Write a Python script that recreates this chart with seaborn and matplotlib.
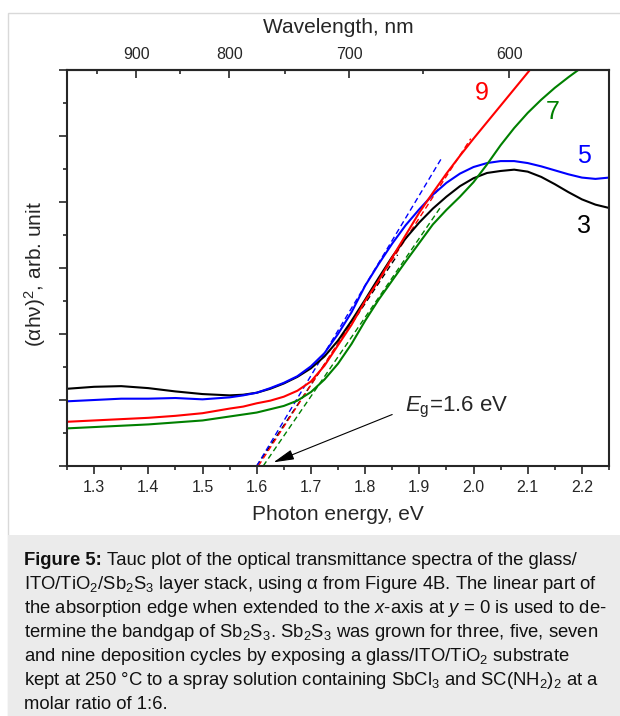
import matplotlib
matplotlib.use("Agg")
import matplotlib.pyplot as plt
import matplotlib.patches as mpatches
from matplotlib.ticker import FixedLocator, MultipleLocator, NullFormatter
import numpy as np
import pandas as pd
import seaborn as sns

# Photon energy grid (eV) and Tauc values (arb. unit)
ENERGY = [1.25, 1.30, 1.35, 1.40, 1.45, 1.50, 1.55, 1.575, 1.60, 1.625, 1.65,
          1.675, 1.70, 1.725, 1.75, 1.775, 1.80, 1.825, 1.85, 1.875, 1.90,
          1.925, 1.95, 1.975, 2.00, 2.025, 2.05, 2.075, 2.10, 2.125, 2.15,
          2.175, 2.20, 2.225, 2.25]
CYC3 = [1.17, 1.20, 1.21, 1.18, 1.13, 1.09, 1.07, 1.08, 1.11, 1.17, 1.25,
        1.35, 1.48, 1.66, 1.90, 2.20, 2.52, 2.85, 3.17, 3.45, 3.69,
        3.90, 4.08, 4.24, 4.36, 4.44, 4.47, 4.49, 4.46, 4.38, 4.27,
        4.15, 4.04, 3.96, 3.91]
CYC5 = [0.98, 1.00, 1.02, 1.02, 1.03, 1.01, 1.04, 1.07, 1.11, 1.18, 1.26,
        1.36, 1.51, 1.71, 2.00, 2.33, 2.73, 3.06, 3.37, 3.65, 3.89,
        4.11, 4.29, 4.43, 4.53, 4.59, 4.62, 4.62, 4.59, 4.54, 4.48,
        4.42, 4.37, 4.35, 4.37]
CYC7 = [0.57, 0.59, 0.61, 0.63, 0.66, 0.69, 0.75, 0.78, 0.81, 0.86, 0.91,
        0.99, 1.12, 1.31, 1.55, 1.85, 2.20, 2.52, 2.81, 3.10, 3.38,
        3.66, 3.88, 4.08, 4.30, 4.57, 4.86, 5.12, 5.35, 5.55, 5.73,
        5.89, 6.04, np.nan, np.nan]
CYC9 = [0.67, 0.69, 0.71, 0.73, 0.76, 0.80, 0.87, 0.90, 0.95, 0.99, 1.05,
        1.14, 1.28, 1.52, 1.83, 2.14, 2.50, 2.81, 3.16, 3.50, 3.84,
        4.14, 4.43, 4.70, 4.96, 5.21, 5.46, 5.71, 5.96, 6.21, np.nan,
        np.nan, np.nan, np.nan, np.nan]

CYCLES = ["3", "5", "7", "9"]
COLORS = {"3": "black", "5": "#0000ff", "7": "#008000", "9": "#ff0000"}

# Linear fits of the absorption edge: x-intercept and end point of the dashed line
FIT_START = [1.600, 1.600, 1.612, 1.603]
FIT_END_E = [1.860, 1.943, 1.940, 1.995]
FIT_END_Y = [3.20, 4.69, 3.93, 4.96]

# Curve number labels (position)
LABEL_E = [2.204, 2.204, 2.146, 2.016]
LABEL_Y = [3.63, 4.69, 5.37, 5.65]

WL_MAJOR = [900, 800, 700, 600]
WL_MINOR = [950, 850, 750, 650]

CAPTION_HEAD = "Figure 5:"
CAPTION = [
    "Tauc plot of the optical transmittance spectra of the glass/",
    r"ITO/TiO$_2$/Sb$_2$S$_3$ layer stack, using α from Figure 4B. The linear part of",
    r"the absorption edge when extended to the $\mathit{x}$-axis at $\mathit{y}$ = 0 is used to de-",
    r"termine the bandgap of Sb$_2$S$_3$. Sb$_2$S$_3$ was grown for three, five, seven",
    r"and nine deposition cycles by exposing a glass/ITO/TiO$_2$ substrate",
    r"kept at 250 °C to a spray solution containing SbCl$_3$ and SC(NH$_2$)$_2$ at a",
    "molar ratio of 1:6.",
]

sns.set_theme(style="ticks")
plt.rcParams["font.family"] = ["Liberation Sans", "DejaVu Sans"]
plt.rcParams["mathtext.fontset"] = "custom"
plt.rcParams["mathtext.rm"] = "Liberation Sans"
plt.rcParams["mathtext.it"] = "Liberation Sans:italic"
plt.rcParams["mathtext.bf"] = "Liberation Sans:bold"

curves = pd.DataFrame({"energy": ENERGY, "3": CYC3, "5": CYC5, "7": CYC7, "9": CYC9})
curves = curves.melt(id_vars="energy", var_name="cycles", value_name="tauc").dropna()

fits = pd.DataFrame({
    "cycles": CYCLES * 2,
    "energy": FIT_START + FIT_END_E,
    "tauc": [0.0] * 4 + FIT_END_Y,
})

W, H = 620, 716
fig = plt.figure(figsize=(W / 100, H / 100), dpi=100)

# page decoration: thin frame and grey caption box
fig.patches.append(mpatches.Rectangle((8 / W, 0), 1, 1 - 13 / H, transform=fig.transFigure,
                                      facecolor="white", edgecolor="#d9d9d9", lw=1.0, zorder=-2))
fig.patches.append(mpatches.Rectangle((8 / W, 0), 1, (H - 535) / H, transform=fig.transFigure,
                                      facecolor="#ebebeb", edgecolor="none", zorder=-1))

ax = fig.add_axes([67 / W, 1 - 466 / H, 542 / W, 396 / H])
ax.set_facecolor("none")

sns.lineplot(data=fits, x="energy", y="tauc", hue="cycles", hue_order=CYCLES,
             palette=COLORS, legend=False, ax=ax, lw=1.0, linestyle=(0, (4, 2.5)),
             estimator=None, sort=False)
sns.lineplot(data=curves, x="energy", y="tauc", hue="cycles", hue_order=CYCLES,
             palette=COLORS, legend=False, ax=ax, lw=1.5, estimator=None, sort=False)

for cyc, le, ly in zip(CYCLES, LABEL_E, LABEL_Y):
    ax.text(le, ly, cyc, color=COLORS[cyc], fontsize=18, ha="center", va="center")

ax.text(1.874, 0.82, r"$E_\mathrm{g}$=1.6 eV", fontsize=16, ha="left", va="baseline")
ax.annotate("", xy=(1.631, 0.056), xytext=(1.850, 0.78),
            arrowprops=dict(arrowstyle="-|>,head_length=0.9,head_width=0.22",
                            color="black", lw=0.8, mutation_scale=14, shrinkA=0, shrinkB=0))

ax.set_xlim(1.25, 2.25)
ax.set_ylim(0, 6)
ax.xaxis.set_major_locator(FixedLocator([1.3, 1.4, 1.5, 1.6, 1.7, 1.8, 1.9, 2.0, 2.1, 2.2]))
ax.xaxis.set_minor_locator(MultipleLocator(0.05))
ax.yaxis.set_major_locator(MultipleLocator(1))
ax.yaxis.set_minor_locator(MultipleLocator(0.5))
ax.yaxis.set_major_formatter(NullFormatter())
ax.tick_params(which="major", direction="out", length=6, width=1.2, labelsize=11.5, pad=4)
ax.tick_params(which="minor", direction="out", length=3, width=1.2)
ax.tick_params(top=False, right=False, which="both")
for s in ax.spines.values():
    s.set_linewidth(1.5)
    s.set_visible(True)

ax.set_xlabel("Photon energy, eV", fontsize=15, labelpad=7)
ax.set_ylabel("(αhν)$^2$, arb. unit", fontsize=15)
ax.yaxis.set_label_coords(-0.035, 0.485)


def e2l(e):
    e = np.asarray(e, dtype=float)
    with np.errstate(divide="ignore"):
        return 1239.84 / e


secax = ax.secondary_xaxis("top", functions=(e2l, e2l))
secax.set_xticks(WL_MAJOR)
secax.xaxis.set_minor_locator(FixedLocator(WL_MINOR))
secax.tick_params(which="major", direction="in", length=6, width=1.2, labelsize=11.5, pad=6)
secax.tick_params(which="minor", direction="in", length=3, width=1.2)
secax.spines["top"].set_linewidth(1.5)
secax.set_xlabel("Wavelength, nm", fontsize=15, labelpad=10)

# caption: bold head, then the text lines
cap_kw = dict(fontsize=13.3, ha="left", va="baseline", color="#111111")
head = fig.text(24 / W, 1 - 565 / H, CAPTION_HEAD, fontweight="bold", **cap_kw)
bb = head.get_window_extent(fig.canvas.get_renderer())
for i, line in enumerate(CAPTION):
    x0 = (bb.x1 + 5) / W if i == 0 else 24 / W
    fig.text(x0, 1 - (565 + 24 * i) / H, line, **cap_kw)

fig.savefig("out.png", dpi=100)
